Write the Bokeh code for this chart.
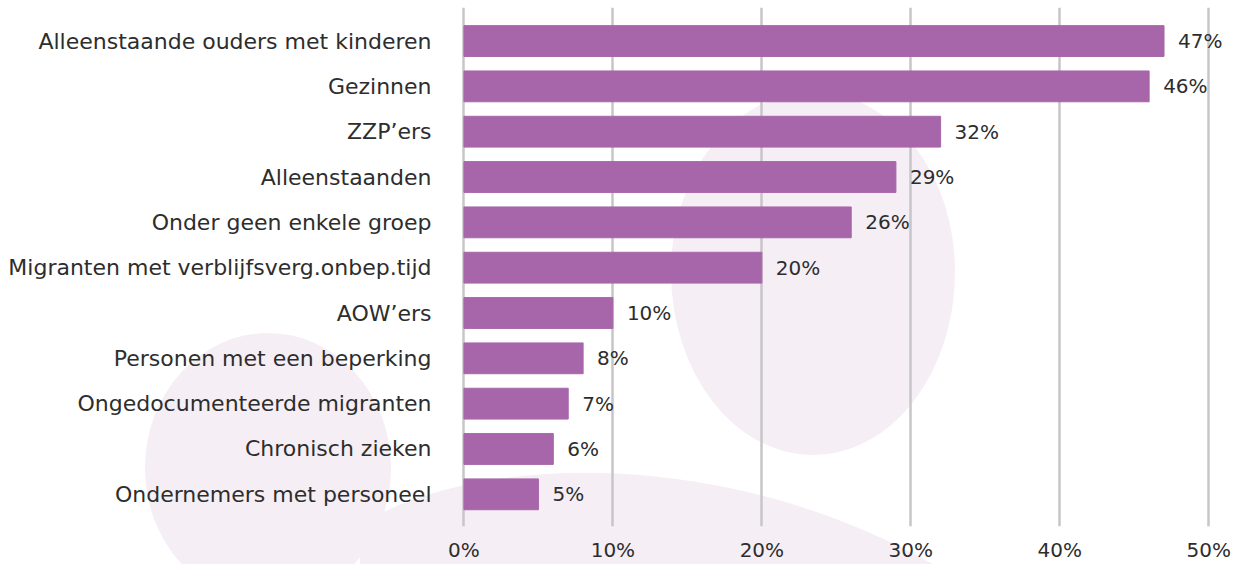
from urllib.parse import quote

from bokeh.plotting import figure
from bokeh.models import ColumnDataSource, Range1d, FixedTicker, PrintfTickFormatter
from bokeh.core.properties import value
from bokeh.embed import file_html
from bokeh.resources import INLINE

# ---- data ----
categories = [
    "Alleenstaande ouders met kinderen",
    "Gezinnen",
    "ZZP\u2019ers",
    "Alleenstaanden",
    "Onder geen enkele groep",
    "Migranten met verblijfsverg.onbep.tijd",
    "AOW\u2019ers",
    "Personen met een beperking",
    "Ongedocumenteerde migranten",
    "Chronisch zieken",
    "Ondernemers met personeel",
]
percentages = [47, 46, 32, 29, 26, 20, 10, 8, 7, 6, 5]
x_ticks = [0, 10, 20, 30, 40, 50]
value_labels = [f"{v}%" for v in percentages]

# ---- style ----
FONT = "DejaVu Sans"
TEXT = "#2d2d2d"
BAR = "#a866aa"
GRID = "#c6c6c8"
BLOB = "#f5eef5"

W_LEFT, W_FRAME, W_RIGHT = 456, 782, 3
H_TOP, H_FRAME, H_BOTTOM = 7, 519, 38
W = W_LEFT + W_FRAME + W_RIGHT
H = H_TOP + H_FRAME + H_BOTTOM

ypos = list(range(len(categories)))
src = ColumnDataSource(dict(y=ypos, val=percentages, lab=value_labels))

p = figure(
    x_range=Range1d(-0.5, 52.0),
    y_range=Range1d(len(categories) - 1 + 0.71, -0.74),
    frame_width=W_FRAME, frame_height=H_FRAME,
    min_border_left=W_LEFT, min_border_right=W_RIGHT,
    min_border_top=H_TOP, min_border_bottom=H_BOTTOM,
    output_backend="svg", toolbar_location=None,
    background_fill_color=None, border_fill_color=None,
    outline_line_color=None,
)

# decorative background blobs (CSS background of the plot element)
svg = (
    f'<svg xmlns="http://www.w3.org/2000/svg" width="{W}" height="{H}">'
    f'<g fill="{BLOB}">'
    '<ellipse cx="268" cy="468" rx="123" ry="135"/>'
    '<path d="M 671,272 A 142,180 0 0 1 955,272 A 142,183 0 0 1 671,272 Z"/>'
    '<path d="M 360,525 C 480,450 760,440 990,600 L 360,600 Z"/>'
    '</g></svg>'
)
p.styles = {
    "background-image": f'url("data:image/svg+xml,{quote(svg)}")',
    "background-repeat": "no-repeat",
}

p.hbar(y="y", left=0, right="val", height=0.68, color=BAR, source=src)
p.text(x="val", y="y", text="lab", x_offset=14, text_baseline="middle",
       text_align="left", text_font=value(FONT), text_font_size="20px",
       text_color=TEXT, source=src)

p.xgrid.ticker = FixedTicker(ticks=x_ticks)
p.xgrid.grid_line_color = GRID
p.xgrid.grid_line_width = 2.5
p.ygrid.visible = False

p.xaxis.ticker = FixedTicker(ticks=x_ticks)
p.xaxis.formatter = PrintfTickFormatter(format="%d%%")
p.yaxis.ticker = FixedTicker(ticks=ypos)
p.yaxis.major_label_overrides = {i: c for i, c in zip(ypos, categories)}

for ax in (p.xaxis, p.yaxis):
    ax.axis_line_color = None
    ax.major_tick_line_color = None
    ax.minor_tick_line_color = None
    ax.major_label_text_font = FONT
    ax.major_label_text_color = TEXT
p.xaxis.major_label_text_font_size = "20px"
p.yaxis.major_label_text_font_size = "22px"
p.xaxis.major_label_standoff = 5
p.yaxis.major_label_standoff = 19

open("out.html", "w").write(file_html(p, INLINE))
